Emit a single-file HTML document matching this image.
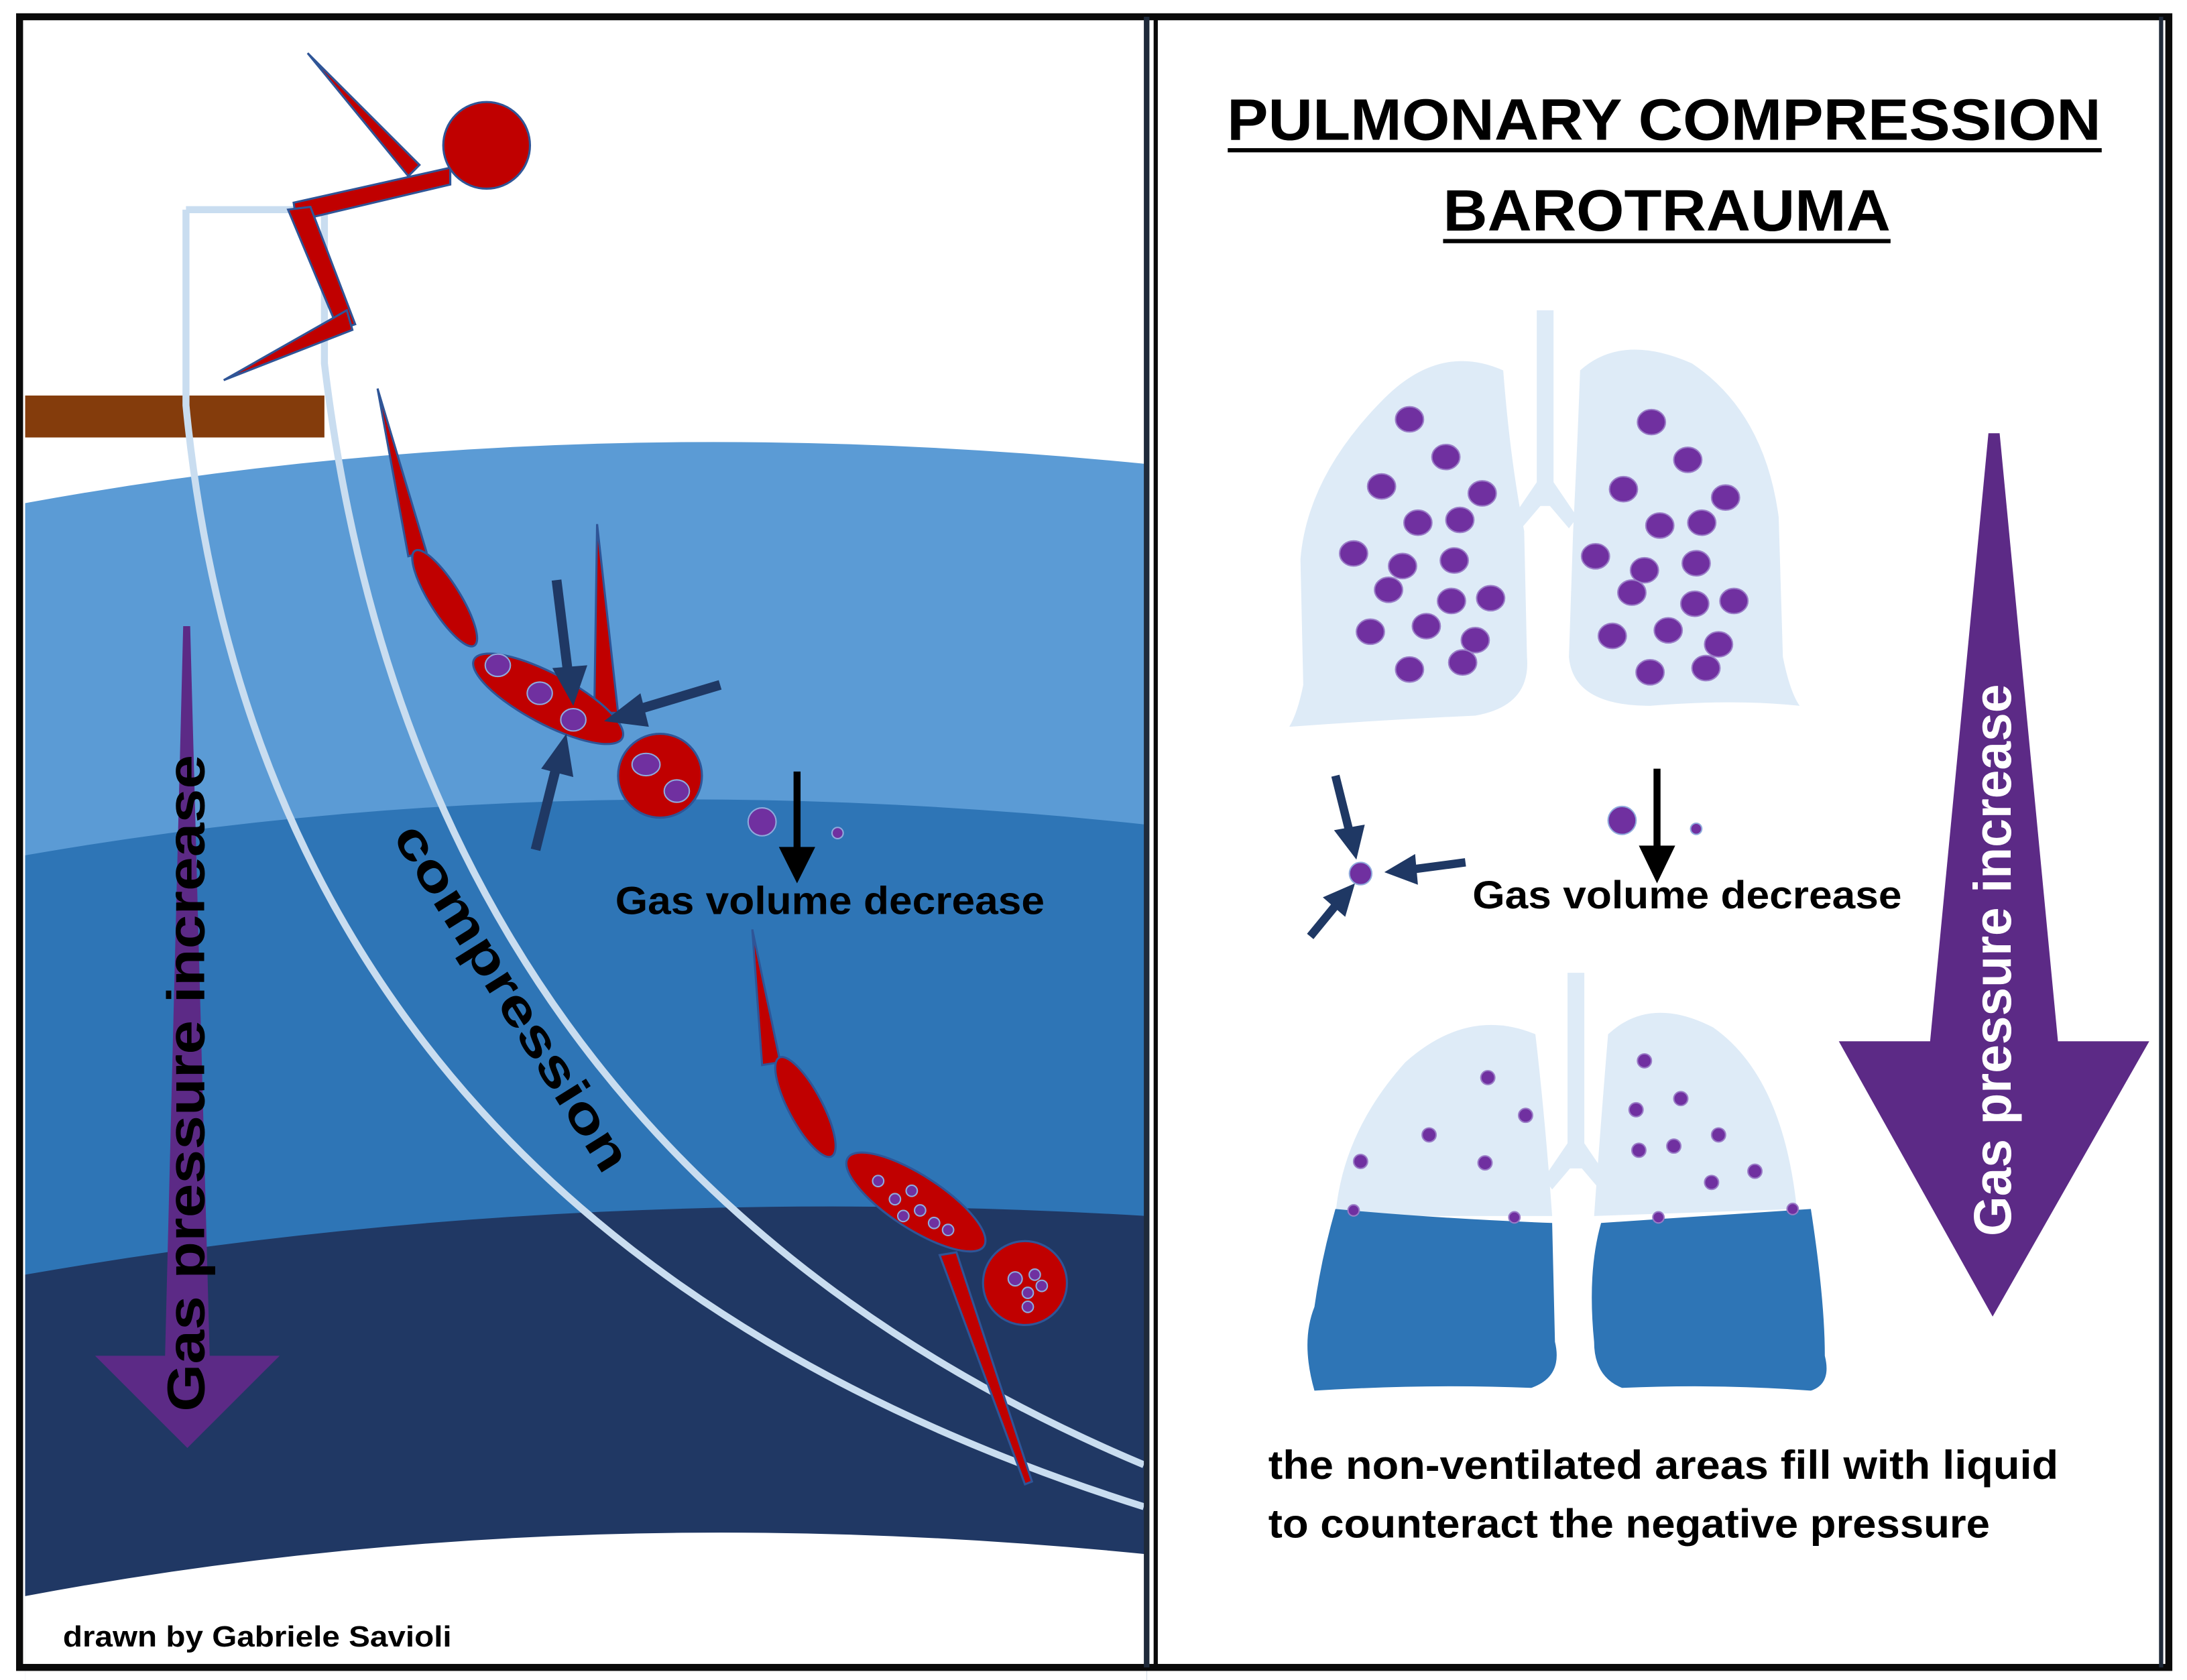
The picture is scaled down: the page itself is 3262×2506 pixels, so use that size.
<!DOCTYPE html>
<html><head><meta charset="utf-8"><style>
html,body{margin:0;padding:0;background:#fff;}
svg{display:block;}
text{font-family:"Liberation Sans",sans-serif;font-weight:bold;}
</style></head><body>
<svg width="3262" height="2506" viewBox="0 0 1564 1202" preserveAspectRatio="none" xmlns="http://www.w3.org/2000/svg">
<rect x="0" y="0" width="1564" height="1202" fill="#fff"/>
<!-- water bands -->
<path d="M18,360 Q400,290 820,332 L820,1202 L18,1202 Z" fill="#5b9bd5"/>
<path d="M18,612 Q400,545 820,590 L820,1202 L18,1202 Z" fill="#2e75b6"/>
<path d="M18,912 Q400,845 820,870 L820,1202 L18,1202 Z" fill="#203864"/>
<path d="M18,1142 Q400,1070 820,1112 L820,1202 L18,1202 Z" fill="#fff"/>
<!-- board -->
<rect x="18" y="283" width="214" height="30" fill="#843c0c"/>
<!-- light lines -->
<path d="M133,150 L232,150" stroke="#c9ddf0" stroke-width="5" fill="none"/>
<path d="M133,150 L133,290 Q190,880 818,1078" stroke="#c9ddf0" stroke-width="5" fill="none"/>
<path d="M232,150 L232,260 Q300,830 818,1048" stroke="#c9ddf0" stroke-width="5" fill="none"/>
<!-- diver 1 -->
<g fill="#c00000" stroke="#2f5597" stroke-width="1.5">
<polygon points="220,38 300,118 292,126"/>
<polygon points="322,120 210,145 212,158 322,132"/>
<polygon points="206,150 222,148 254,232 242,236"/>
<polygon points="248,222 160,272 252,236"/>
<circle cx="348" cy="104" r="31"/>
</g>
<!-- diver 2 -->
<g fill="#c00000" stroke="#2f5597" stroke-width="1.5">
<polygon points="270,278 305,395 292,398"/>
<ellipse cx="318" cy="428" rx="40" ry="11" transform="rotate(58 318 428)"/>
<polygon points="427,375 442,510 425,510"/>
<ellipse cx="392" cy="500" rx="60" ry="18" transform="rotate(28 392 500)"/>
<circle cx="472" cy="555" r="30"/>
</g>
<g fill="#7030a0" stroke="#8faadc" stroke-width="1">
<ellipse cx="356" cy="476" rx="9" ry="8"/><ellipse cx="386" cy="496" rx="9" ry="8"/><ellipse cx="410" cy="515" rx="9" ry="8"/>
<ellipse cx="462" cy="547" rx="10" ry="8"/><ellipse cx="484" cy="566" rx="9" ry="8"/>
</g>
<!-- diver 3 -->
<g fill="#c00000" stroke="#2f5597" stroke-width="1.5">
<polygon points="538,665 558,760 545,762"/>
<ellipse cx="576" cy="792" rx="40" ry="12" transform="rotate(62 576 792)"/>
<ellipse cx="655" cy="860" rx="58" ry="19" transform="rotate(33 655 860)"/>
<polygon points="672,898 684,896 738,1060 733,1062"/>
<circle cx="733" cy="918" r="30"/>
</g>
<g fill="#7030a0" stroke="#8faadc" stroke-width="1">
<circle cx="628" cy="845" r="4"/><circle cx="640" cy="858" r="4"/><circle cx="652" cy="852" r="4"/><circle cx="658" cy="866" r="4"/><circle cx="668" cy="875" r="4"/><circle cx="646" cy="870" r="4"/><circle cx="678" cy="880" r="4"/>
<circle cx="726" cy="915" r="5"/><circle cx="740" cy="912" r="4"/><circle cx="735" cy="925" r="4"/><circle cx="745" cy="920" r="4"/><circle cx="735" cy="935" r="4"/>
</g>
<!-- navy arrows left -->
<g stroke="#1f3864" stroke-width="7" fill="#1f3864">
<line x1="398" y1="415" x2="406" y2="480"/><polygon points="395,478 420,476 410,505" stroke="none"/>
<line x1="515" y1="490" x2="455" y2="508"/><polygon points="458,496 464,520 432,516" stroke="none"/>
<line x1="383" y1="608" x2="398" y2="548"/><polygon points="387,550 410,556 405,525" stroke="none"/>
</g>
<!-- gas volume left -->
<circle cx="545" cy="588" r="10" fill="#7030a0" stroke="#8faadc"/>
<circle cx="599" cy="596" r="4" fill="#7030a0" stroke="#8faadc"/>
<line x1="570" y1="552" x2="570" y2="612" stroke="#000" stroke-width="5"/>
<polygon points="557,606 583,606 570,632" fill="#000"/>
<text x="440" y="654" font-size="28" textLength="307" lengthAdjust="spacingAndGlyphs" fill="#000">Gas volume decrease</text>
<!-- purple arrow left -->
<polygon points="131,448 136,448 150,972 118,972" fill="#5c2a86"/>
<polygon points="68,970 200,970 134,1036" fill="#5c2a86"/>
<text transform="translate(146,775) rotate(-90)" text-anchor="middle" font-size="38" textLength="470" lengthAdjust="spacingAndGlyphs" fill="#000">Gas pressure increase</text>
<text transform="translate(356,720) rotate(58)" text-anchor="middle" font-size="36" textLength="286" lengthAdjust="spacingAndGlyphs" fill="#000">compression</text>
<text x="45" y="1178" font-size="21" textLength="278" lengthAdjust="spacingAndGlyphs" fill="#000">drawn by Gabriele Savioli</text>
<!-- right panel -->
<text x="1190" y="100" text-anchor="middle" font-size="42" textLength="625" lengthAdjust="spacingAndGlyphs" fill="#000">PULMONARY COMPRESSION</text>
<rect x="878" y="106" width="625" height="3" fill="#000"/>
<text x="1192" y="165" text-anchor="middle" font-size="42" textLength="320" lengthAdjust="spacingAndGlyphs" fill="#000">BAROTRAUMA</text>
<rect x="1032" y="171" width="320" height="3" fill="#000"/>
<!-- top lungs -->
<g fill="#deebf7">
<rect x="1099" y="222" width="12" height="140"/>
<polygon points="1099,345 1082,370 1088,378 1105,358 1122,378 1128,370 1111,345"/>
<path d="M1075,265 Q1030,245 990,285 Q935,340 930,400 L932,490 Q928,510 922,520 Q990,515 1055,512 Q1095,505 1092,470 L1090,380 Q1080,330 1075,265 Z"/>
<path d="M1130,265 Q1160,238 1210,260 Q1262,295 1272,370 L1275,470 Q1280,495 1287,505 Q1240,500 1180,505 Q1125,505 1122,470 L1125,380 Q1128,320 1130,265 Z"/>
</g>
<g fill="#7030a0" stroke="#9a7cc7" stroke-width="1">
<ellipse cx="1008" cy="300" rx="10" ry="9"/><ellipse cx="1034" cy="327" rx="10" ry="9"/><ellipse cx="988" cy="348" rx="10" ry="9"/><ellipse cx="1060" cy="353" rx="10" ry="9"/><ellipse cx="1014" cy="374" rx="10" ry="9"/><ellipse cx="1044" cy="372" rx="10" ry="9"/><ellipse cx="968" cy="396" rx="10" ry="9"/><ellipse cx="1003" cy="405" rx="10" ry="9"/><ellipse cx="1040" cy="401" rx="10" ry="9"/><ellipse cx="993" cy="422" rx="10" ry="9"/><ellipse cx="1038" cy="430" rx="10" ry="9"/><ellipse cx="1066" cy="428" rx="10" ry="9"/><ellipse cx="980" cy="452" rx="10" ry="9"/><ellipse cx="1020" cy="448" rx="10" ry="9"/><ellipse cx="1055" cy="458" rx="10" ry="9"/><ellipse cx="1008" cy="479" rx="10" ry="9"/><ellipse cx="1046" cy="474" rx="10" ry="9"/>
<ellipse cx="1181" cy="302" rx="10" ry="9"/><ellipse cx="1207" cy="329" rx="10" ry="9"/><ellipse cx="1161" cy="350" rx="10" ry="9"/><ellipse cx="1234" cy="356" rx="10" ry="9"/><ellipse cx="1187" cy="376" rx="10" ry="9"/><ellipse cx="1217" cy="374" rx="10" ry="9"/><ellipse cx="1141" cy="398" rx="10" ry="9"/><ellipse cx="1176" cy="408" rx="10" ry="9"/><ellipse cx="1213" cy="403" rx="10" ry="9"/><ellipse cx="1167" cy="424" rx="10" ry="9"/><ellipse cx="1212" cy="432" rx="10" ry="9"/><ellipse cx="1240" cy="430" rx="10" ry="9"/><ellipse cx="1153" cy="455" rx="10" ry="9"/><ellipse cx="1193" cy="451" rx="10" ry="9"/><ellipse cx="1229" cy="461" rx="10" ry="9"/><ellipse cx="1180" cy="481" rx="10" ry="9"/><ellipse cx="1220" cy="478" rx="10" ry="9"/>
</g>
<!-- middle right -->
<g stroke="#1f3864" stroke-width="6" fill="#1f3864">
<line x1="955" y1="555" x2="965" y2="595"/><polygon points="954,594 976,590 970,615" stroke="none"/>
<line x1="1048" y1="617" x2="1010" y2="622"/><polygon points="1012,611 1014,633 990,624" stroke="none"/>
<line x1="937" y1="670" x2="955" y2="648"/><polygon points="946,642 962,656 969,632" stroke="none"/>
</g>
<circle cx="973" cy="625" r="8" fill="#7030a0" stroke="#8faadc"/>
<circle cx="1160" cy="587" r="10" fill="#7030a0" stroke="#8faadc"/>
<circle cx="1213" cy="593" r="4" fill="#7030a0" stroke="#8faadc"/>
<line x1="1185" y1="550" x2="1185" y2="610" stroke="#000" stroke-width="5"/>
<polygon points="1172,605 1198,605 1185,632" fill="#000"/>
<text x="1053" y="650" font-size="28" textLength="307" lengthAdjust="spacingAndGlyphs" fill="#000">Gas volume decrease</text>
<!-- bottom lungs -->
<g fill="#deebf7">
<rect x="1121" y="696" width="12" height="140"/>
<polygon points="1121,818 1104,843 1110,851 1127,831 1144,851 1150,843 1133,818"/>
<path d="M1098,740 Q1050,720 1005,760 Q960,810 955,870 L1110,870 Q1105,800 1098,740 Z"/>
<path d="M1150,740 Q1180,712 1225,735 Q1275,770 1285,865 L1140,870 Q1145,800 1150,740 Z"/>
</g>
<g fill="#2e75b6">
<path d="M955,865 Q1030,872 1110,875 L1112,960 Q1118,985 1095,993 Q1020,990 940,995 Q930,960 940,935 Q945,900 955,865 Z"/>
<path d="M1145,875 Q1220,870 1295,865 Q1305,930 1305,970 Q1310,990 1295,995 Q1230,990 1160,993 Q1140,985 1140,960 Q1135,910 1145,875 Z"/>
</g>
<g fill="#7030a0" stroke="#9a7cc7" stroke-width="1">
<circle cx="1064" cy="771" r="5"/><circle cx="1091" cy="798" r="5"/><circle cx="1022" cy="812" r="5"/><circle cx="1062" cy="832" r="5"/><circle cx="973" cy="831" r="5"/><circle cx="968" cy="866" r="4"/><circle cx="1083" cy="871" r="4"/>
<circle cx="1176" cy="759" r="5"/><circle cx="1202" cy="786" r="5"/><circle cx="1170" cy="794" r="5"/><circle cx="1229" cy="812" r="5"/><circle cx="1172" cy="823" r="5"/><circle cx="1197" cy="820" r="5"/><circle cx="1255" cy="838" r="5"/><circle cx="1224" cy="846" r="5"/><circle cx="1186" cy="871" r="4"/><circle cx="1282" cy="865" r="4"/>
</g>
<text x="907" y="1058" font-size="29" textLength="565" lengthAdjust="spacingAndGlyphs" fill="#000">the non-ventilated areas fill with liquid</text>
<text x="907" y="1100" font-size="29" textLength="516" lengthAdjust="spacingAndGlyphs" fill="#000">to counteract the negative pressure</text>
<!-- big purple arrow right -->
<polygon points="1422,310 1430,310 1472,748 1380,748" fill="#5c2a86"/>
<polygon points="1315,745 1537,745 1425,942" fill="#5c2a86"/>
<text transform="translate(1438,687) rotate(-90)" text-anchor="middle" font-size="38" textLength="395" lengthAdjust="spacingAndGlyphs" fill="#fff">Gas pressure increase</text>
<!-- frame -->
<rect x="14" y="12" width="1537" height="1181" fill="none" stroke="#0a0a0a" stroke-width="5"/>
<rect x="818" y="12" width="4" height="1181" fill="#1f2a3a"/>
<rect x="825" y="12" width="3" height="1181" fill="#0a0a0a"/>
<rect x="1544" y="12" width="3" height="1181" fill="#1f2a3a"/>
</svg>
</body></html>
